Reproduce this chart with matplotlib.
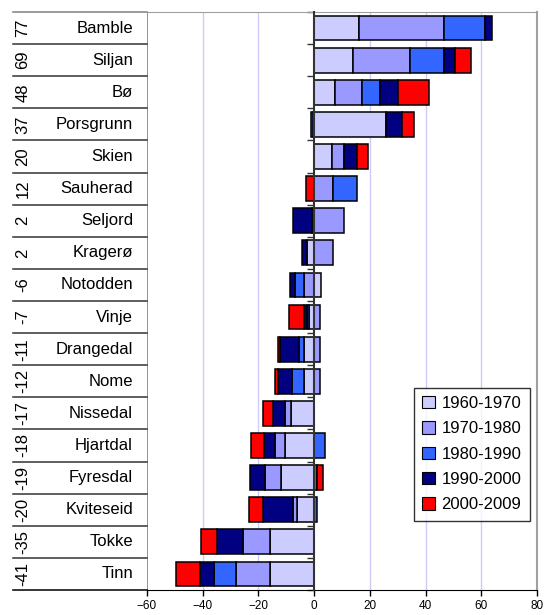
import numpy as np
import matplotlib
matplotlib.use("Agg")
import matplotlib.pyplot as plt
from matplotlib.transforms import blended_transform_factory
from matplotlib.lines import Line2D
from matplotlib.patches import Patch

plt.rcParams['font.family'] = ['Liberation Sans', 'DejaVu Sans']

municipalities = ["Bamble", "Siljan", "Bø", "Porsgrunn", "Skien", "Sauherad", "Seljord",
                  "Kragerø", "Notodden", "Vinje", "Drangedal", "Nome", "Nissedal",
                  "Hjartdal", "Fyresdal", "Kviteseid", "Tokke", "Tinn"]
totals = [77, 69, 48, 37, 20, 12, 2, 2, -6, -7, -11, -12, -17, -18, -19, -20, -35, -41]

series_labels = ["1960-1970", "1970-1980", "1980-1990", "1990-2000", "2000-2009"]
s1960 = [16.0, 13.9, 7.4, 25.8, 6.4, 0, 0, -2.7, 2.4, -1.7, -3.5, -3.8, -8.4, -10.3, -12.0, -6.0, -15.8, -15.8]
s1970 = [30.6, 20.4, 9.8, -0.4, 4.4, 6.7, 10.6, 6.8, -3.8, 2.2, 2.2, 2.2, -1.9, -3.8, -5.5, -1.7, -9.9, -12.3]
s1980 = [14.8, 12.3, 6.5, -0.7, 0, 8.7, -0.7, 0, -3.0, -0.8, -2.0, -4.2, 0, 3.8, 1.0, 1.2, 0, -8.0]
s1990 = [2.4, 4.1, 6.5, 5.7, 4.6, 0, -6.9, -1.6, -1.8, -1.3, -6.7, -4.8, -4.3, -3.8, -5.5, -10.8, -9.3, -4.8]
s2000 = [0, 5.7, 11.0, 4.5, 3.8, -3.0, 0, 0, 0, -5.1, -0.6, -1.2, -3.8, -4.7, 2.3, -4.8, -5.5, -8.6]
colors = ["#CCCCFF", "#9999FF", "#3366FF", "#000080", "#FF0000"]

W, H = 545, 615
fig = plt.figure(figsize=(W / 100, H / 100), dpi=100)
L, R, T, B = 147, 537, 12, 590
ax = fig.add_axes([L / W, 1 - B / H, (R - L) / W, (B - T) / H])

n = len(municipalities)
y = np.arange(n)
pos_base = np.zeros(n)
neg_base = np.zeros(n)
for vals, col, lab in zip([s1960, s1970, s1980, s1990, s2000], colors, series_labels):
    v = np.array(vals, dtype=float)
    left = np.where(v >= 0, pos_base, neg_base)
    m = v != 0
    ax.barh(y[m], v[m], left=left[m], height=0.77, color=col, edgecolor='black',
            linewidth=1.1, zorder=3)
    pos_base = pos_base + np.where(v > 0, v, 0)
    neg_base = neg_base + np.where(v < 0, v, 0)

ax.set_xlim(-60, 80)
ax.set_ylim(n - 0.5, -0.5)
ax.set_xticks(np.arange(-60, 81, 20))
ax.tick_params(axis='x', labelsize=8.5, length=4, width=1, direction='out', pad=3)
for xv in [-40, -20, 20, 40, 60]:
    ax.axvline(xv, color='#ccccf5', lw=1, zorder=1)

# category axis at zero
ax.spines['left'].set_position(('data', 0))
ax.spines['left'].set_color('#333333')
ax.spines['left'].set_linewidth(1.5)
ax.spines['left'].set_zorder(4)
ax.set_yticks(np.arange(n + 1) - 0.5)
ax.set_yticklabels([])
ax.tick_params(axis='y', length=5, width=1, direction='out', color='#333333')
ax.spines['top'].set_color('#a0a0a0')
ax.spines['right'].set_color('#a0a0a0')
ax.spines['right'].set_linewidth(1.5)
ax.spines['bottom'].set_color('black')
ax.axvline(-60, color='#808080', lw=1.2, zorder=2)

# left table
tr = blended_transform_factory(fig.transFigure, ax.transData)
x0 = 13 / W
for k in range(n + 1):
    c = 'black' if k == n else '#333333'
    if k == 0:
        c = '#808080'
    fig.add_artist(Line2D([x0, L / W], [k - 0.5, k - 0.5], transform=tr, color=c, lw=1.1))
for i in range(n):
    fig.text(23 / W, i, str(totals[i]), transform=tr, rotation=90, ha='center',
             va='center', fontsize=12)
    fig.text(133 / W, i, municipalities[i], transform=tr, ha='right', va='center',
             fontsize=12)

handles = [Patch(facecolor=c, edgecolor='black', linewidth=0.8) for c in colors]
leg = ax.legend(handles, series_labels, loc='upper right', bbox_to_anchor=(0.981, 0.350),
                fontsize=12, frameon=True, fancybox=False, handlelength=0.75,
                handleheight=0.75, handletextpad=0.4, labelspacing=0.62,
                borderpad=0.5, borderaxespad=0)
leg.get_frame().set_edgecolor('black')
leg.get_frame().set_linewidth(1.0)
leg.set_zorder(5)

fig.savefig("out.png", dpi=100)
